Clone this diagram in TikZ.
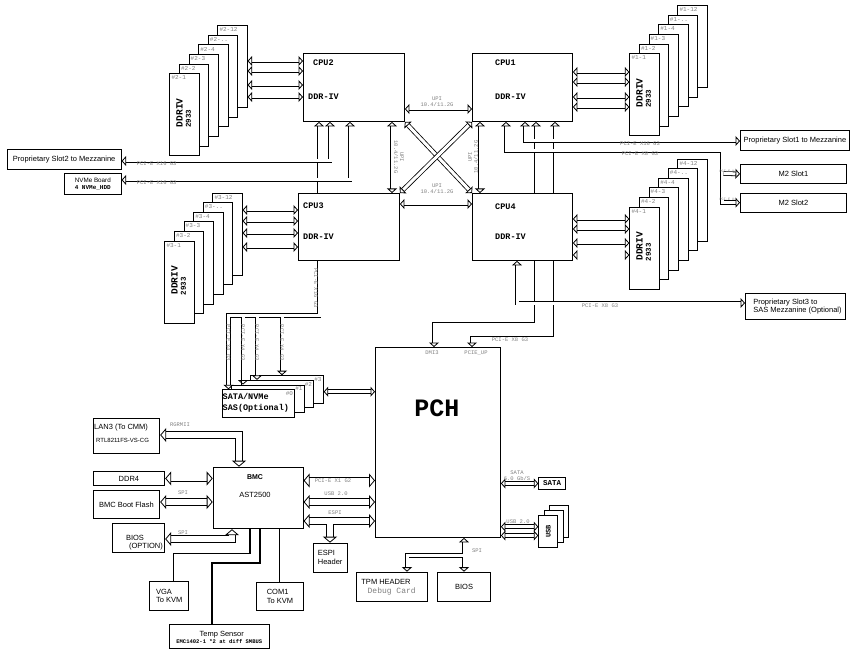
\documentclass[tikz,border=0pt]{standalone}
\usepackage{fontspec}
\setmainfont{Liberation Sans}
\setmonofont{Liberation Mono}
\usetikzlibrary{arrows.meta,positioning,calc,backgrounds}
\tikzset{
  box/.style      ={draw, fill=white, line width=0.9pt, inner sep=0pt, anchor=north west},
  cpu/.style      ={box, minimum width=100pt, minimum height=68pt},
  dimm/.style     ={box, minimum width=29.4pt, minimum height=82pt},
  port/.style     ={box, font=\fontsize{7.5}{8.5}\selectfont, align=center},
  chipname/.style ={font=\fontsize{8.5}{9}\selectfont\ttfamily\bfseries, anchor=west, inner sep=0pt},
  dimmtype/.style ={rotate=90, font=\fontsize{9.5}{10}\selectfont\ttfamily\bfseries, inner sep=0pt},
  dimmspeed/.style={rotate=90, font=\fontsize{7.5}{8}\selectfont\ttfamily\bfseries, inner sep=0pt},
  slotno/.style   ={font=\fontsize{6}{6}\selectfont\ttfamily, text=black!50, anchor=west, inner sep=0pt},
  tag/.style      ={font=\fontsize{5.5}{6}\selectfont\ttfamily, text=black!50, inner sep=0pt, align=center},
  txt/.style      ={font=\fontsize{7.5}{8.5}\selectfont, inner sep=0pt},
  hd/.tip         ={Triangle[open, length=4.5pt, width=10pt, line width=0.8pt]},
  wd/.tip         ={Triangle[open, length=6pt, width=14pt, line width=0.8pt]},
  bus/.style      ={draw, line width=0.8pt, double=white, double distance=3pt, hd-hd},
  busend/.style   ={bus, -hd},
  wbus/.style     ={bus, double distance=6pt, wd-wd},
  wbusend/.style  ={wbus, -wd},
  wire/.style     ={draw, line width=1.4pt}
}

\begin{document}
\begin{tikzpicture}[x=1pt, y=-1pt]
  \useasboundingbox (0,0) rectangle (855,650);

  % processors
  \node[cpu, minimum width=101pt] (cpu2) at (303,53) {};
  \node[cpu] (cpu1) at (472,53) {};
  \node[cpu, minimum width=101pt, minimum height=67pt] (cpu3) at (298,193) {};
  \node[cpu, minimum height=67pt] (cpu4) at (472,193) {};
  \node[chipname] (cpu2name) at (313,63) {CPU2};
  \node[chipname] (cpu2ddr)  at (308,97) {DDR-IV};
  \node[chipname] (cpu1name) at (495,63) {CPU1};
  \node[chipname] (cpu1ddr)  at (495,97) {DDR-IV};
  \node[chipname] (cpu3name) at (303,206) {CPU3};
  \node[chipname] (cpu3ddr)  at (303,237) {DDR-IV};
  \node[chipname] (cpu4name) at (495,207) {CPU4};
  \node[chipname] (cpu4ddr)  at (495,237) {DDR-IV};

  % memory slots, back to front
  \foreach \t/\i in {12/5,../4,4/3,3/2,2/1,1/0}{
    \node[dimm] (m2-\i) at ({169.3+9.6*\i},{73.3-9.6*\i}) {};
    \node[slotno] (m2-\i-no) at ([xshift=2pt,yshift=-4.5pt]m2-\i.north west) {\#2-\t};
    \node[dimm] (m1-\i) at ({629.3+9.6*\i},{53.3-9.6*\i}) {};
    \node[slotno] (m1-\i-no) at ([xshift=2pt,yshift=-4.5pt]m1-\i.north west) {\#1-\t};
    \node[dimm] (m3-\i) at ({164.3+9.6*\i},{240.7-9.6*\i}) {};
    \node[slotno] (m3-\i-no) at ([xshift=2pt,yshift=-4.5pt]m3-\i.north west) {\#3-\t};
    \node[dimm] (m4-\i) at ({629.3+9.6*\i},{206.7-9.6*\i}) {};
    \node[slotno] (m4-\i-no) at ([xshift=2pt,yshift=-4.5pt]m4-\i.north west) {\#4-\t};
  }
  \foreach \s in {1,2,3,4}{
    \node[dimmtype]  (m\s-type)  at ($(m\s-0.center)+(-5,-2)$) {DDRIV};
    \node[dimmspeed] (m\s-speed) at ($(m\s-0.center)+(4,4)$) {2933};
  }
  \foreach \yy in {61,71,85,97}  \draw[bus] (m2-5.east |- 0,\yy) -- (cpu2.west |- 0,\yy);
  \foreach \yy in {72,82,97,107} \draw[bus] (cpu1.east |- 0,\yy) -- (m1-0.west |- 0,\yy);
  \foreach \yy in {210,221,233,247} \draw[bus] (m3-5.east |- 0,\yy) -- (cpu3.west |- 0,\yy);
  \foreach \yy in {219,229,243,255} \draw[bus] (cpu4.east |- 0,\yy) -- (m4-0.west |- 0,\yy);

  % UPI links
  \draw[bus] (cpu2.east |- 0,109) -- (cpu1.west |- 0,109);
  \draw[bus] (cpu3.east |- 0,204) -- (cpu4.west |- 0,204);
  \draw[bus] (cpu2.south -| 392,0) -- (cpu3.north -| 392,0);
  \draw[bus] (cpu1.south -| 480,0) -- (cpu4.north -| 480,0);
  \draw[bus] (cpu2.south east) -- (cpu4.north west);
  \draw[bus] (cpu1.south west) -- (cpu3.north east);
  \node[tag] (upi-a) at (437,102) {UPI\\10.4/11.2G};
  \node[tag] (upi-b) at (437,189) {UPI\\10.4/11.2G};
  \node[tag, rotate=-90] (upi-c) at (399,157) {UPI\\10.4/11.2G};
  \node[tag, rotate=90]  (upi-d) at (473,157) {UPI\\10.4/11.2G};

  % PCH
  \node[box, minimum width=125pt, minimum height=190pt] (pch) at (375,347) {};
  \node[font=\fontsize{25}{25}\selectfont\ttfamily\bfseries, inner sep=0pt] (pchname) at (437,408) {PCH};
  \node[tag] (dmi) at (432,353) {DMI3};
  \node[tag] (pcieup) at (476,353) {PCIE\_UP};

  % SATA / NVMe backplane
  \foreach \i in {3,2,1,0}{
    \node[box, minimum width=72.6pt, minimum height=27.4pt] (sat\i) at ({221.7+9.5*\i},{389.3-4.7*\i}) {};
    \node[slotno, anchor=north east] (sat\i-no) at ([xshift=-2pt,yshift=-2pt]sat\i.north east) {\#\i};
  }
  \node[font=\fontsize{8.5}{11}\selectfont\ttfamily\bfseries, align=left, anchor=west, inner sep=0pt]
       (satname) at (222.5,403) {SATA/NVMe\\SAS(Optional)};
  \draw[bus] (sat3.east |- 0,391.7) -- (pch.west |- 0,391.7);

  % links hidden behind CPU3 and CPU4
  \begin{scope}[on background layer]
    \draw[bus] (cpu2.south -| 319,0) -- (319,315.5) -| (sat0.north -| 228.5,0);
    \draw[bus] (cpu1.south -| 536,0) |- (434,324) -- (pch.north -| 434,0);
    \draw[bus] (cpu1.south -| 555,0) |- (472,338) -- (pch.north -| 472,0);
  \end{scope}
  \draw[busend] (243,317) -- (sat1.north -| 243,0);
  \draw[busend] (257,317) -- (sat2.north -| 257,0);
  \draw[busend] (282,317) -- (sat3.north -| 282,0);
  \node[tag, rotate=-90] (x16c) at (316,288) {PCI-E X16 G3};
  \foreach \xx in {228.5,243,257,282}
    \node[tag, rotate=-90] at (\xx,343) {PCI-E X4 G3};
  \node[tag] (x8b) at (510,340) {PCI-E X8 G3};

  % slots off CPU1, CPU2, CPU4
  \node[port, minimum width=114pt, minimum height=20pt] (slot2) at (6.7,149.3) {Proprietary Slot2 to Mezzanine};
  \node[port, minimum width=56.7pt, minimum height=21.3pt, font=\fontsize{6.3}{7}\selectfont] (nvme) at (64,172.7)
       {NVMe Board\\{\fontsize{6}{7}\selectfont\ttfamily\bfseries 4 NVMe\_HDD}};
  \draw[bus] (cpu2.south -| 330,0) |- (slot2.east |- 0,161);
  \draw[bus] (cpu2.south -| 350,0) |- (nvme.east |- 0,180);
  \node[tag] (x16a) at (156.7,163.5) {PCI-E X16 G3};
  \node[tag] (x16b) at (156.7,182.5) {PCI-E X16 G3};

  \node[port, minimum width=109pt, minimum height=20pt] (slot1) at (740,130) {Proprietary Slot1 to Mezzanine};
  \node[port, minimum width=106pt, minimum height=19pt] (m2a) at (740,164) {M2 Slot1};
  \node[port, minimum width=106pt, minimum height=19pt] (m2b) at (740,192.7) {M2 Slot2};
  \draw[bus] (cpu1.south -| 525,0) |- (slot1.west |- 0,141);
  \draw[bus] (cpu1.south -| 506,0) |- (722,151) |- (m2b.west);
  \draw[busend] (723.5,173.5) -- (m2a.west);
  \node[tag] (x16d) at (640,143.5) {PCI-E X16 G3};
  \node[tag] (x8a) at (640,153.5) {PCI-E X8 G3};
  \node[tag, font=\fontsize{3.5}{4}\selectfont\ttfamily] (x4a) at (728,171) {PCI-E X4};
  \node[tag, font=\fontsize{3.5}{4}\selectfont\ttfamily] (x4b) at (728,199.5) {PCI-E X4};

  \node[port, minimum width=100pt, minimum height=26pt, align=left, anchor=north west] (slot3) at (745,293)
       {\hspace*{4pt}Proprietary Slot3 to\\\hspace*{4pt}SAS Mezzanine (Optional)};
  \draw[bus] (cpu4.south -| 517,0) |- (slot3.west |- 0,303);
  \node[tag] (x8c) at (600,305.5) {PCI-E X8 G3};

  % PCH peripherals
  \node[port, minimum width=26.7pt, minimum height=12.6pt, font=\fontsize{7.5}{8}\selectfont\ttfamily\bfseries] (sata) at (538.3,476.7) {SATA};
  \draw[bus] (pch.east |- sata.west) -- (sata.west);
  \node[tag] (satatag) at (517,475.5) {SATA\\6.0 Gb/S};
  \foreach \i in {2,1,0}
    \node[box, minimum width=19pt, minimum height=31.7pt] (usb\i) at ({538.3+5.3*\i},{515-5*\i}) {};
  \node[rotate=90, font=\fontsize{7}{8}\selectfont\ttfamily\bfseries, inner sep=0pt] (usbname) at (usb0.center) {USB};
  \draw[bus] (pch.east |- 0,526.7) -- (usb0.west |- 0,526.7);
  \draw[bus] (pch.east |- 0,535.5) -- (usb0.west |- 0,535.5);
  \node[tag] (usbtag) at (518,521.5) {USB 2.0};

  \node[port, minimum width=71.3pt, minimum height=29pt] (tpm) at (356,571.7) {};
  \node[txt] (tpmname) at (386,581.7) {TPM HEADER};
  \node[font=\fontsize{8}{8}\selectfont\ttfamily, text=black!50, inner sep=0pt] (tpmdbg) at (391.7,591) {Debug Card};
  \node[port, minimum width=52.7pt, minimum height=29pt] (bios) at (437.3,571.7) {BIOS};
  \draw[bus] (pch.south -| 464,0) -- (bios.north -| 464,0);
  \draw[busend] (462.5,555.5) -| (tpm.north -| 407,0);
  \node[tag] (spic) at (477,551) {SPI};

  % BMC and its neighbours
  \node[box, minimum width=90pt, minimum height=61.6pt] (bmc) at (212.7,466.7) {};
  \node[txt, font=\fontsize{7}{8}\selectfont\bfseries] (bmcname) at (255,476.7) {BMC};
  \node[txt] (bmcchip) at (255,495) {AST2500};
  \node[port, minimum width=66.6pt, minimum height=34.4pt] (lan) at (92.7,418.3) {};
  \node[txt, anchor=west] (lanname) at (94,427.3) {LAN3 (To CMM)};
  \node[txt, anchor=west, font=\fontsize{6}{7}\selectfont] (lanchip) at (96,440) {RTL8211FS-VS-CG};
  \node[port, minimum width=71.6pt, minimum height=14pt] (ddr4) at (92.7,471) {DDR4};
  \node[port, minimum width=66.6pt, minimum height=28.3pt] (flash) at (92.7,490) {BMC Boot Flash};
  \node[port, minimum width=52.6pt, minimum height=28.4pt] (bios2) at (111.7,523.3) {};
  \node[txt] (bios2name) at (135,538) {BIOS};
  \node[txt] (bios2opt) at (146,546.5) {(OPTION)};

  \draw[wbus] (lan.east |- 0,435) -| (bmc.north -| 239,0);
  \node[tag] (rgmii) at (180,425) {RGRMII};
  \draw[wbus] (ddr4.east) -- (bmc.west |- ddr4.east);
  \draw[wbus] (flash.east |- 0,502) -- (bmc.west |- 0,502);
  \node[tag] (spia) at (183,493) {SPI};
  \draw[wbus] (bios2.east |- 0,539) -| (bmc.south -| 232,0);
  \node[tag] (spib) at (183,532.7) {SPI};

  \draw[wbus] (bmc.east |- 0,480.5) -- (pch.west |- 0,480.5);
  \node[tag] (bmcx1) at (333,480.5) {PCI-E X1 G2};
  \draw[wbus] (bmc.east |- 0,502) -- (pch.west |- 0,502);
  \node[tag] (bmcusb) at (336,493.5) {USB 2.0};
  \draw[wbus] (bmc.east |- 0,521) -- (pch.west |- 0,521);
  \node[tag] (bmcespi) at (335,512.5) {ESPI};
  \node[port, minimum width=34pt, minimum height=29pt, align=left] (espi) at (312.7,542.7) {ESPI\\Header};
  \draw[wbusend] (330,524) -- (espi.north -| 330,0);

  \node[port, minimum width=39pt, minimum height=29.3pt, align=left] (vga) at (149.3,580.7) {VGA\\To KVM};
  \node[port, minimum width=47.6pt, minimum height=28.3pt, align=left] (com1) at (255.7,581.7) {COM1\\To KVM};
  \node[port, minimum width=100pt, minimum height=24pt] (temp) at (169.3,624.3) {};
  \node[txt] (tempname) at (221.7,634.3) {Temp Sensor};
  \node[font=\fontsize{5.5}{6}\selectfont\ttfamily\bfseries, inner sep=0pt] (tempchip) at (219.3,641.7) {EMC1402-1 *2 at diff SMBUS};
  \draw[wire] (vga.north -| 173.3,0) |- (250,553.3) -- (bmc.south -| 250,0);
  \draw[wire] (temp.north -| 212,0) |- (260,563) -- (bmc.south -| 260,0);
  \draw[wire] (com1.north -| 279.3,0) -- (bmc.south -| 279.3,0);
\end{tikzpicture}
\end{document}
